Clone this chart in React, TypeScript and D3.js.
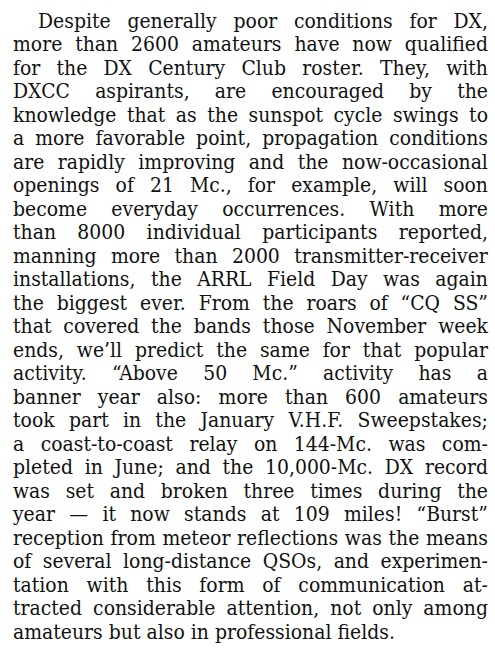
import React, { useEffect, useRef } from "react";
import * as d3 from "d3";

// text of the column, one entry per printed line
const lines = [
  "Despite generally poor conditions for DX,",
  "more than 2600 amateurs have now qualified",
  "for the DX Century Club roster. They, with",
  "DXCC aspirants, are encouraged by the",
  "knowledge that as the sunspot cycle swings to",
  "a more favorable point, propagation conditions",
  "are rapidly improving and the now-occasional",
  "openings of 21 Mc., for example, will soon",
  "become everyday occurrences. With more",
  "than 8000 individual participants reported,",
  "manning more than 2000 transmitter-receiver",
  "installations, the ARRL Field Day was again",
  "the biggest ever. From the roars of \u201CCQ SS\u201D",
  "that covered the bands those November week",
  "ends, we\u2019ll predict the same for that popular",
  "activity. \u201CAbove 50 Mc.\u201D activity has a",
  "banner year also: more than 600 amateurs",
  "took part in the January V.H.F. Sweepstakes;",
  "a coast-to-coast relay on 144-Mc. was com-",
  "pleted in June; and the 10,000-Mc. DX record",
  "was set and broken three times during the",
  "year \u2014 it now stands at 109 miles! \u201CBurst\u201D",
  "reception from meteor reflections was the means",
  "of several long-distance QSOs, and experimen-",
  "tation with this form of communication at-",
  "tracted considerable attention, not only among",
  "amateurs but also in professional fields.",
];
const indentedLines = [0];
const raggedLines = [26];

const W = 495;
const H = 648;
const FONT = "'DejaVu Serif', serif";
const SIZE = 19.5;

const App = () => {
  const ref = useRef<SVGSVGElement>(null);

  useEffect(() => {
    const svg = d3.select(ref.current);
    svg.selectAll("*").remove();

    const left = 13;
    const right = 488;
    const indent = 25;
    const y = d3
      .scaleLinear()
      .domain([0, lines.length - 1])
      .range([28, 639]);

    const probe = svg
      .append("text")
      .attr("font-family", FONT)
      .attr("font-size", SIZE);
    const measure = (s: string) => {
      probe.text(s);
      return (probe.node() as SVGTextElement).getComputedTextLength();
    };
    // squeeze the glyphs sideways so the widest line still fits the column
    let worst = 0;
    lines.forEach((l, i) => {
      const avail = right - left - (indentedLines.includes(i) ? indent : 0);
      worst = Math.max(worst, (measure(l) + 4) / avail);
    });
    const sx = Math.min(1, 1 / worst);
    const spaceW = measure("a a") - measure("aa");

    const g = svg
      .append("g")
      .attr("transform", `scale(${sx},1)`)
      .attr("font-family", FONT)
      .attr("font-size", SIZE)
      .attr("fill", "#111");

    lines.forEach((l, i) => {
      const words = l.split(" ");
      const widths = words.map(w => measure(w) * sx);
      const x0 = left + (indentedLines.includes(i) ? indent : 0);
      const total = d3.sum(widths);
      const gap =
        raggedLines.includes(i) || words.length < 2
          ? spaceW * sx
          : (right - x0 - total) / (words.length - 1);
      let x = x0;
      const text = g.append("text").attr("y", y(i));
      words.forEach((w, j) => {
        text.append("tspan").attr("x", x / sx).text(w);
        x += widths[j] + gap;
      });
    });
    probe.remove();
  }, []);

  return (
    <svg
      ref={ref}
      width={W}
      height={H}
      style={{ position: "absolute", left: 0, top: 0, background: "#fff" }}
    />
  );
};

export default App;
